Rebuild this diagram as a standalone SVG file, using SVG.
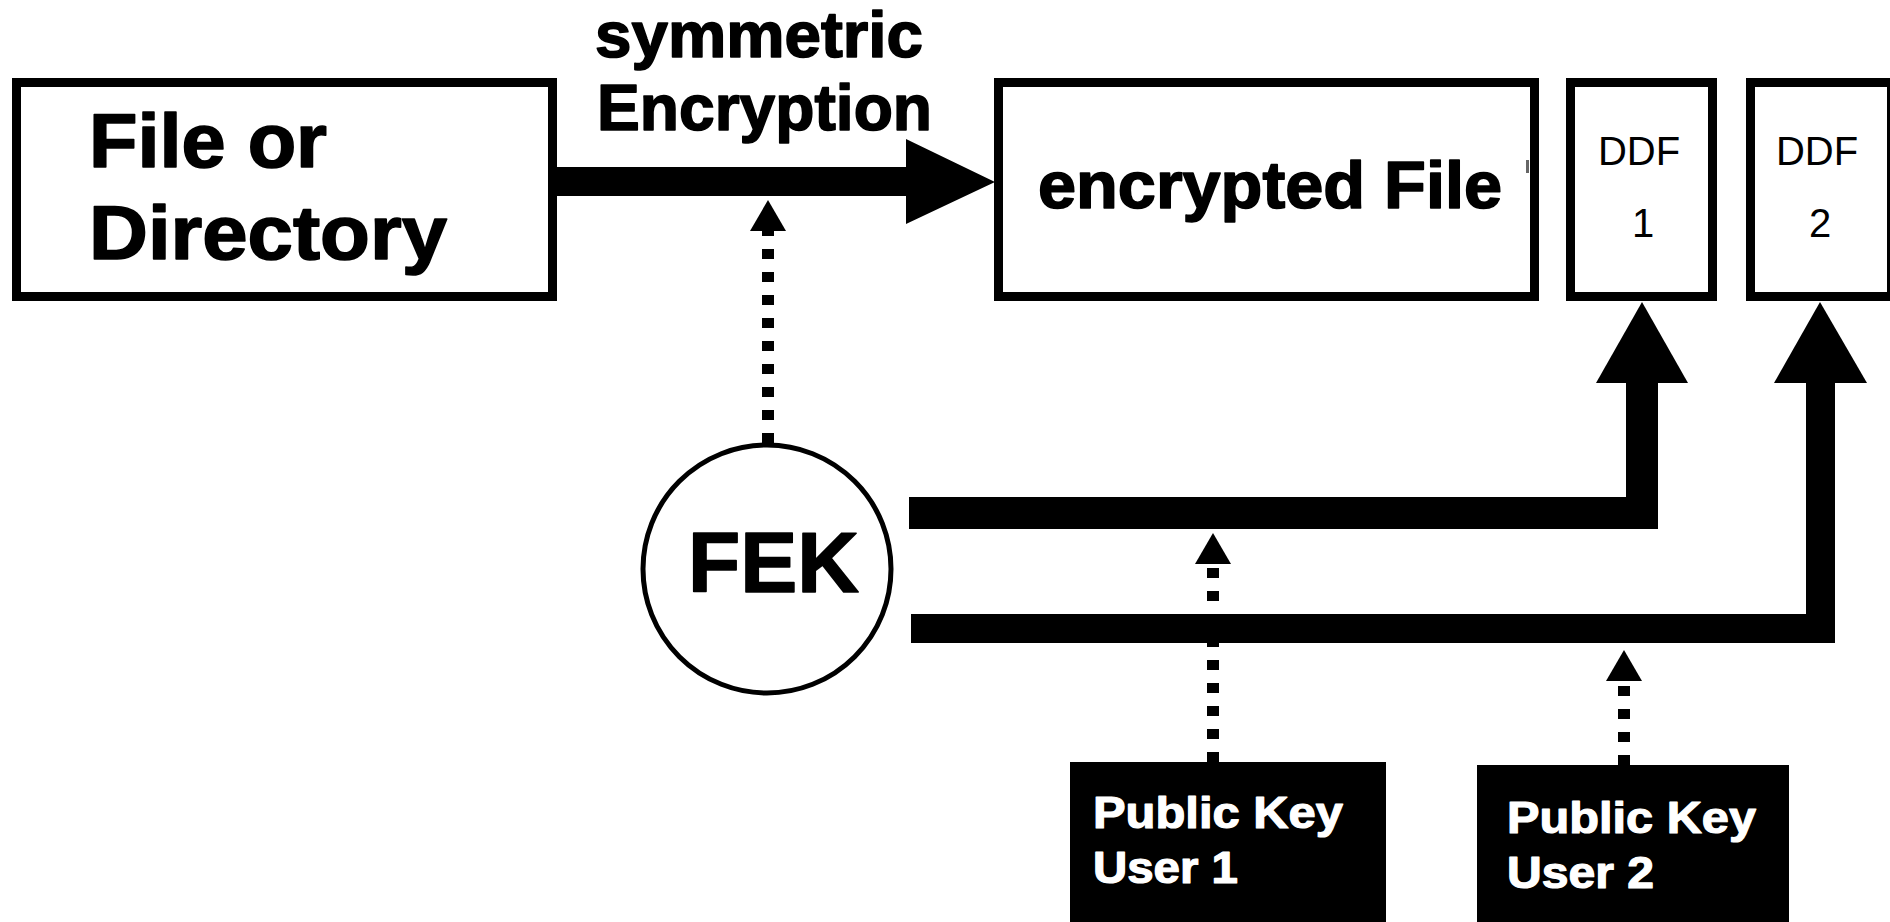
<svg xmlns="http://www.w3.org/2000/svg" width="1890" height="922" viewBox="0 0 1890 922">
<style>
.box{fill:#fff;stroke:#000;stroke-width:9}
.bt{font-family:"Liberation Sans",Arial,sans-serif;font-weight:bold;fill:#000;stroke:#000;stroke-width:1.6;stroke-linejoin:round}
.rt{font-family:"Liberation Sans",Arial,sans-serif;fill:#000}
.wt{font-family:"Liberation Sans",Arial,sans-serif;font-weight:bold;fill:#fff;stroke:#fff;stroke-width:1.2;stroke-linejoin:round}
.dot{fill:none;stroke:#000;stroke-width:12;stroke-dasharray:10 13}
.bar{fill:none;stroke:#000;stroke-linejoin:miter}
</style>
<defs>
<marker id="dh" viewBox="0 -18 31 36" refX="0" refY="0" markerWidth="31" markerHeight="36" markerUnits="userSpaceOnUse" orient="auto">
<path d="M0,-18 L31,0 L0,18 Z" fill="#000"/>
</marker>
</defs>
<rect width="1890" height="922" fill="#fff"/>
<g id="connectors">
<path d="M557,167 H906 V139 L995,182 L906,224 V196 H557 Z" fill="#000"/>
<line class="dot" x1="768" y1="443" x2="768" y2="231" marker-end="url(#dh)"/>
<line class="dot" x1="1213" y1="762" x2="1213" y2="564" marker-end="url(#dh)"/>
<line class="dot" x1="1624" y1="765" x2="1624" y2="681" marker-end="url(#dh)"/>
<path class="bar" d="M909,513 H1642 V380" stroke-width="32"/>
<polygon points="1596,383 1642,302 1688,383" fill="#000"/>
<path class="bar" d="M911,628.5 H1820.5 V380" stroke-width="29"/>
<polygon points="1774,383 1820,302 1867,383" fill="#000"/>
</g>
<g id="file">
<rect class="box" x="16.5" y="82.5" width="536" height="214"/>
<text class="bt" x="89" y="167" font-size="76" textLength="238" lengthAdjust="spacingAndGlyphs">File or</text>
<text class="bt" x="89" y="259" font-size="76" textLength="358" lengthAdjust="spacingAndGlyphs">Directory</text>
</g>
<g id="label-symmetric">
<text class="bt" x="595" y="57" font-size="64" textLength="328" lengthAdjust="spacingAndGlyphs">symmetric</text>
<text class="bt" x="597" y="130" font-size="64" textLength="335" lengthAdjust="spacingAndGlyphs">Encryption</text>
</g>
<g id="encrypted">
<rect class="box" x="998.5" y="82.5" width="536" height="214"/>
<text class="bt" x="1038" y="208" font-size="66" textLength="464" lengthAdjust="spacingAndGlyphs">encrypted File</text>
<rect x="1526" y="160" width="3" height="13" fill="#666"/>
</g>
<g id="ddf1">
<rect class="box" x="1570.5" y="82.5" width="142" height="214"/>
<text class="rt" x="1639" y="165" font-size="40" text-anchor="middle">DDF</text>
<text class="rt" x="1643" y="237" font-size="40" text-anchor="middle">1</text>
</g>
<g id="ddf2">
<rect class="box" x="1750.5" y="82.5" width="141" height="214"/>
<text class="rt" x="1817" y="165" font-size="40" text-anchor="middle">DDF</text>
<text class="rt" x="1820" y="237" font-size="40" text-anchor="middle">2</text>
</g>
<g id="fek">
<circle cx="767" cy="569" r="124" fill="#fff" stroke="#000" stroke-width="5"/>
<text class="bt" x="688" y="592" font-size="86" textLength="171" lengthAdjust="spacingAndGlyphs">FEK</text>
</g>
<g id="pk1">
<rect x="1070" y="762" width="316" height="160" fill="#000"/>
<text class="wt" x="1093" y="828" font-size="44" textLength="250" lengthAdjust="spacingAndGlyphs">Public Key</text>
<text class="wt" x="1093" y="883" font-size="44" textLength="145" lengthAdjust="spacingAndGlyphs">User 1</text>
</g>
<g id="pk2">
<rect x="1477" y="765" width="312" height="157" fill="#000"/>
<text class="wt" x="1507" y="833" font-size="44" textLength="249" lengthAdjust="spacingAndGlyphs">Public Key</text>
<text class="wt" x="1507" y="888" font-size="44" textLength="147" lengthAdjust="spacingAndGlyphs">User 2</text>
</g>
</svg>
